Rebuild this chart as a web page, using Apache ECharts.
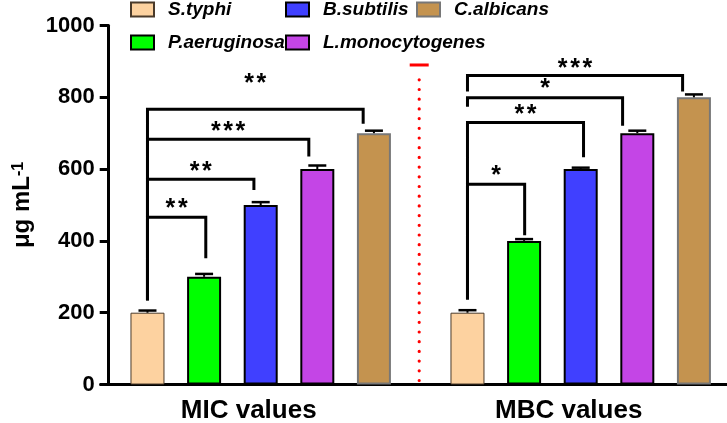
<!DOCTYPE html>
<html>
<head>
<meta charset="utf-8">
<script src="https://cdn.jsdelivr.net/npm/echarts@6/dist/echarts.min.js"></script>
<style>
html, body { margin: 0; padding: 0; background: #fff; }
#chart { width: 727px; height: 423px; }
</style>
</head>
<body>
<div id="chart"></div>
<script>
var groups = ['MIC values', 'MBC values'];
var strains = ['S.typhi', 'P.aeruginosa', 'B.subtilis', 'L.monocytogenes', 'C.albicans'];
var micMeans = [200, 300, 500, 600, 700];
var micErrors = [6, 8, 8, 10, 7];
var mbcMeans = [200, 400, 600, 700, 800];
var mbcErrors = [7, 5, 4, 7, 8];

// significance brackets, right leg given in bar slots from the first bar of the group
var bracketGroup = [0, 0, 0, 0, 1, 1, 1, 1];
var bracketTo = [1.03, 1.88, 2.85, 3.81, 1.01, 2.05, 2.74, 3.8];
var bracketTop = [466, 572, 683, 767, 558, 730, 799, 861];
var bracketLeftEnd = [235, 235, 235, 235, 237, 237, 774, 816];
var bracketRightEnd = [352, 542, 635, 726, 416, 633, 721, 816];
var bracketMarks = ['**', '**', '***', '**', '*', '**', '*', '***'];
var bracketMarkAt = [505, 608, 721, 853, 597, 767, 839, 896];

var dividerTop = 890;

var FONT = '"Liberation Sans", Arial, sans-serif';
var colors = ['#FDD2A0', '#00FF00', '#4040FF', '#C445E6', '#C4934F'];
var borders = ['#4a3a2a', '#000', '#000', '#000', '#777'];
var borderW = [1, 2, 2, 2, 2];
var BAR_W = 34;
var BAR_GAP = 0.665;
var PITCH = BAR_W * (1 + BAR_GAP);
var STAR_STEP = 12.3;

var chart = echarts.init(document.getElementById('chart'));

var barSeries = strains.map(function (name, i) {
	return {
		type: 'bar',
		name: name,
		data: [micMeans[i], mbcMeans[i]],
		barWidth: BAR_W,
		barGap: (BAR_GAP * 100) + '%',
		itemStyle: { color: colors[i], borderColor: borders[i], borderWidth: borderW[i] },
		z: 2
	};
});

var errData = [];
strains.forEach(function (s, i) {
	errData.push([0, i, micMeans[i], micErrors[i]]);
	errData.push([1, i, mbcMeans[i], mbcErrors[i]]);
});

var bracketData = bracketGroup.map(function (g, k) {
	return [g, bracketTo[k], bracketTop[k], bracketLeftEnd[k], bracketRightEnd[k], bracketMarkAt[k]];
});

var legendBase = {
	orient: 'vertical',
	top: 0,
	padding: 0,
	itemWidth: 23,
	itemHeight: 14,
	itemGap: 14,
	icon: 'rect',
	selectedMode: false,
	textStyle: { fontSize: 19, fontWeight: 'bold', fontStyle: 'italic', color: '#000', fontFamily: FONT, padding: [0, 0, 0, 9] }
};

var option = {
	animation: false,
	textStyle: { fontFamily: FONT },
	legend: [
		Object.assign({}, legendBase, { left: 130, data: [strains[0], strains[1]] }),
		Object.assign({}, legendBase, { left: 285, data: [strains[2], strains[3]] }),
		Object.assign({}, legendBase, { left: 416, data: [strains[4]] })
	],
	grid: { left: 100.7, top: 25.5, width: 640, height: 359, outerBoundsMode: 'none', containLabel: false },
	xAxis: {
		type: 'category',
		data: groups,
		axisLine: { lineStyle: { color: '#000', width: 3 } },
		axisTick: { alignWithLabel: true, length: 7, lineStyle: { color: '#000', width: 3 } },
		axisLabel: {
			margin: 13,
			formatter: function (v) { return '{t|' + v + '}'; },
			rich: { t: { fontSize: 26, fontWeight: 'bold', color: '#000', fontFamily: FONT, padding: [0, 24, 0, 0] } }
		}
	},
	yAxis: {
		type: 'value',
		min: 0,
		max: 1000,
		interval: 200,
		offset: -8,
		splitLine: { show: false },
		axisLine: { show: true, lineStyle: { color: '#000', width: 3 } },
		axisTick: { show: true, length: 9, lineStyle: { color: '#000', width: 3 } },
		axisLabel: { fontSize: 22, fontWeight: 'bold', color: '#000', margin: 14, formatter: function (v) { return String(v); } },
		name: '{a|\u03bcg mL}{s|-1}',
		nameLocation: 'middle',
		nameGap: 72,
		nameTextStyle: {
			rich: {
				a: { fontSize: 24, fontWeight: 'bold', color: '#000', fontFamily: FONT },
				s: { fontSize: 16, fontWeight: 'bold', color: '#000', fontFamily: FONT, verticalAlign: 'top' }
			}
		}
	},
	series: barSeries.concat([
		{
			type: 'custom',
			name: 'errors',
			data: errData,
			encode: { x: 0, y: 2 },
			z: 5,
			renderItem: function (params, api) {
				var base = api.coord([api.value(0), api.value(2)]);
				var top = api.coord([api.value(0), api.value(2) + api.value(3)]);
				var x = base[0] + (api.value(1) - 2) * PITCH;
				return {
					type: 'group',
					children: [
						{ type: 'line', shape: { x1: x, y1: base[1], x2: x, y2: top[1] }, style: { stroke: '#000', lineWidth: 2 } },
						{ type: 'line', shape: { x1: x - 9, y1: top[1], x2: x + 9, y2: top[1] }, style: { stroke: '#000', lineWidth: 2.5 } }
					]
				};
			}
		},
		{
			type: 'custom',
			name: 'brackets',
			data: bracketData,
			encode: { x: 0, y: 2 },
			z: 5,
			renderItem: function (params, api) {
				var g = api.value(0);
				var c = api.coord([g, api.value(2)]);
				var xl = c[0] - 2 * PITCH;
				var xr = c[0] + (api.value(1) - 2) * PITCH;
				var yl = api.coord([g, api.value(3)])[1];
				var yr = api.coord([g, api.value(4)])[1];
				var ym = api.coord([g, api.value(5)])[1];
				var marks = bracketMarks[params.dataIndex];
				var children = [{
					type: 'polyline',
					shape: { points: [[xl, yl], [xl, c[1]], [xr, c[1]], [xr, yr]] },
					style: { stroke: '#000', lineWidth: 3, fill: null, lineJoin: 'miter' }
				}];
				for (var j = 0; j < marks.length; j++) {
					children.push({
						type: 'text',
						x: (xl + xr) / 2 + (j - (marks.length - 1) / 2) * STAR_STEP,
						y: ym + 6,
						style: {
							text: '*',
							fill: '#000',
							fontSize: 25,
							fontWeight: 'bold',
							fontFamily: FONT,
							align: 'center',
							verticalAlign: 'middle'
						}
					});
				}
				return { type: 'group', children: children };
			}
		},
		{
			type: 'custom',
			name: 'divider',
			data: [[0, dividerTop]],
			encode: { x: 0, y: 1 },
			z: 5,
			renderItem: function (params, api) {
				var bottom = api.coord([0, 0]);
				var x = bottom[0] + api.size([1, 0])[0] / 2 - 1.5;
				var yTop = api.coord([0, api.value(1)])[1];
				return {
					type: 'group',
					children: [
						{ type: 'line', shape: { x1: x, y1: bottom[1] - 4, x2: x, y2: yTop + 8 }, style: { stroke: '#FF0000', lineWidth: 3.2, lineCap: 'round', lineDash: [0, 9.7] } },
						{ type: 'line', shape: { x1: x - 9.5, y1: yTop, x2: x + 9.5, y2: yTop }, style: { stroke: '#FF0000', lineWidth: 3 } }
					]
				};
			}
		}
	])
};

chart.setOption(option);
</script>
</body>
</html>
